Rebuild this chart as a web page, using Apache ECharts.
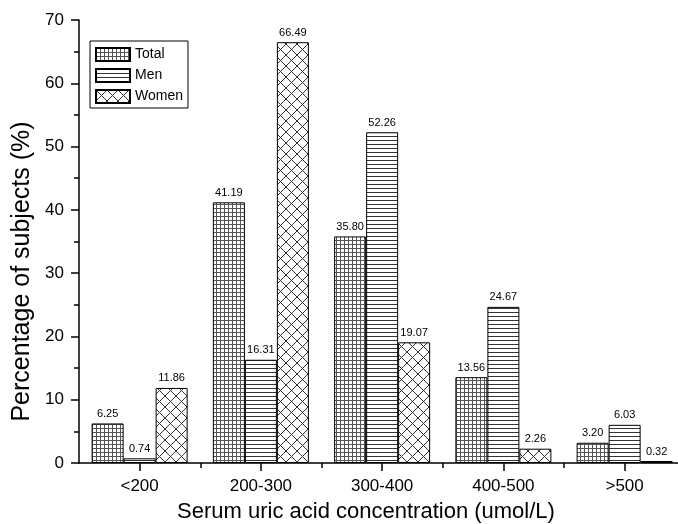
<!DOCTYPE html>
<html>
<head>
<meta charset="utf-8">
<script src="https://cdn.jsdelivr.net/npm/echarts@6/dist/echarts.min.js"></script>
<style>
  html, body { margin: 0; padding: 0; background: #fff; }
  #chart { width: 678px; height: 524px; }
</style>
</head>
<body>
<div id="chart"></div>
<script>
// data
const categories = ["<200", "200-300", "300-400", "400-500", ">500"];
const totalVals = [6.25, 41.19, 35.80, 13.56, 3.20];
const menVals = [0.74, 16.31, 52.26, 24.67, 6.03];
const womenVals = [11.86, 66.49, 19.07, 2.26, 0.32];

// the original x axis runs a bit past the right edge, so use a value axis
// where category i sits at i + 0.5 and the visible range stops short of 5
const centers = categories.map((c, i) => i + 0.5);
const bounds = [1, 2, 3, 4];
const xMax = 599 / 121.25;

// hatch fills
function makePattern(kind) {
  const c = document.createElement("canvas");
  const s = kind === "cross" ? 11 : 4;
  c.width = s;
  c.height = s;
  const ctx = c.getContext("2d");
  ctx.fillStyle = "#fff";
  ctx.fillRect(0, 0, s, s);
  ctx.strokeStyle = kind === "grid" ? "#555" : "#333";
  ctx.lineWidth = 1;
  ctx.beginPath();
  if (kind === "grid") {
    ctx.moveTo(0, 0.5); ctx.lineTo(s, 0.5);
    ctx.moveTo(0.5, 0); ctx.lineTo(0.5, s);
  } else if (kind === "hline") {
    ctx.moveTo(0, 0.5); ctx.lineTo(s, 0.5);
  } else {
    ctx.moveTo(0, 0); ctx.lineTo(s, s);
    ctx.moveTo(s, 0); ctx.lineTo(0, s);
  }
  ctx.stroke();
  return { image: c, repeat: "repeat" };
}

const font = "Liberation Sans, Arial, sans-serif";

function barSeries(name, vals, kind) {
  return {
    name: name,
    type: "bar",
    data: vals.map((v, i) => [centers[i], v]),
    barWidth: 32,
    barGap: "0%",
    itemStyle: {
      color: makePattern(kind),
      borderColor: "#000",
      borderWidth: 1
    },
    label: {
      show: true,
      position: "top",
      distance: 4,
      color: "#000",
      fontSize: 11,
      fontFamily: font,
      formatter: p => p.value[1].toFixed(2)
    }
  };
}

const chart = echarts.init(document.getElementById("chart"));
chart.setOption({
  backgroundColor: "#fff",
  animation: false,
  textStyle: { fontFamily: font, color: "#000" },
  grid: { left: 79, right: 0, top: 20, bottom: 61, outerBoundsMode: "none" },
  legend: {
    orient: "vertical",
    left: 90,
    top: 41,
    icon: "rect",
    borderColor: "#000",
    borderWidth: 1,
    padding: [6, 5, 4, 5],
    itemWidth: 34,
    itemHeight: 13,
    itemGap: 6,
    textStyle: { fontSize: 14, color: "#000", fontFamily: font },
    data: ["Total", "Men", "Women"]
  },
  xAxis: [
    {
      type: "value",
      min: 0,
      max: xMax,
      name: "Serum uric acid concentration (umol/L)",
      nameLocation: "middle",
      nameGap: 38,
      nameTextStyle: { fontSize: 22, color: "#000", padding: [0, 25, 0, 0] },
      splitLine: { show: false },
      axisLine: { lineStyle: { color: "#000", width: 1.5 } },
      axisTick: { customValues: centers, length: 8, lineStyle: { color: "#000", width: 1.5 } },
      axisLabel: {
        customValues: centers,
        fontSize: 17,
        color: "#000",
        margin: 15,
        formatter: v => categories[Math.floor(v)]
      }
    },
    {
      type: "value",
      min: 0,
      max: xMax,
      position: "bottom",
      splitLine: { show: false },
      axisLine: { show: false },
      axisTick: { customValues: bounds, length: 5, lineStyle: { color: "#000", width: 1.5 } },
      axisLabel: { show: false }
    }
  ],
  yAxis: {
    type: "value",
    min: 0,
    max: 70,
    interval: 10,
    name: "Percentage of subjects (%)",
    nameLocation: "middle",
    nameGap: 40,
    nameTextStyle: { fontSize: 25, color: "#000", padding: [0, 60, 0, 0] },
    axisLine: { show: true, lineStyle: { color: "#000", width: 1.5 } },
    axisTick: { show: true, length: 8, lineStyle: { color: "#000", width: 1.5 } },
    minorTick: { show: true, splitNumber: 2, length: 5, lineStyle: { color: "#000", width: 1.5 } },
    splitLine: { show: false },
    axisLabel: { fontSize: 17, color: "#000", margin: 15 }
  },
  series: [
    barSeries("Total", totalVals, "grid"),
    barSeries("Men", menVals, "hline"),
    barSeries("Women", womenVals, "cross")
  ]
});
</script>
</body>
</html>
